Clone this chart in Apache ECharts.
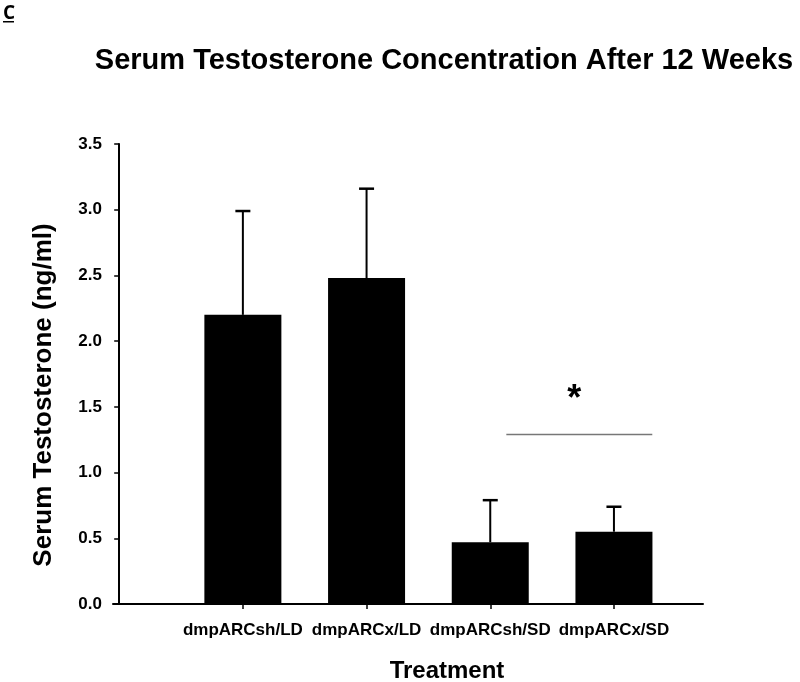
<!DOCTYPE html>
<html>
<head>
<meta charset="utf-8">
<script src="https://cdn.jsdelivr.net/npm/echarts@6/dist/echarts.min.js"></script>
<style>html,body{margin:0;padding:0;background:#fff}#c{width:800px;height:682px}</style>
</head>
<body>
<div id="c"></div>
<script>
const categories = ['dmpARCsh/LD', 'dmpARCx/LD', 'dmpARCsh/SD', 'dmpARCx/SD'];
const positions = [1, 2, 3, 4];
const means = [2.20, 2.48, 0.47, 0.55];
const errorTops = [2.99, 3.16, 0.79, 0.74];
const yTicks = [0, 0.5, 1.0, 1.5, 2.0, 2.5, 3.0, 3.5];
const sigLine = { from: 3.13, to: 4.31, y: 1.29 };
const sigStar = { x: 3.68, y: 1.55, text: '*' };

const FONT = '"Liberation Sans", Arial, sans-serif';
const chart = echarts.init(document.getElementById('c'), null, { renderer: 'canvas' });

const barData = positions.map((p, i) => [p, means[i]]);
const errData = positions.map((p, i) => [p, means[i], errorTops[i]]);

chart.setOption({
  backgroundColor: '#ffffff',
  animation: false,
  graphic: [
    { type: 'text', x: 444, y: 61, style: { text: 'Serum Testosterone Concentration After 12 Weeks', fontFamily: FONT, fontWeight: 'bold', fontSize: 29, fill: '#000', align: 'center', verticalAlign: 'middle' } },
    { type: 'text', x: 3, y: 4, style: { text: 'C', fontFamily: '"Open Sans", "Liberation Sans", sans-serif', fontWeight: 'bold', fontSize: 19, fill: '#000', verticalAlign: 'top' } },
    { type: 'rect', x: 3, y: 21, shape: { width: 11, height: 1.5 }, style: { fill: '#000' } },
    { type: 'text', x: 44, y: 395, rotation: Math.PI / 2, style: { text: 'Serum Testosterone (ng/ml)', fontFamily: FONT, fontWeight: 'bold', fontSize: 26, fill: '#000', align: 'center', verticalAlign: 'middle' } },
    { type: 'text', x: 447, y: 671, style: { text: 'Treatment', fontFamily: FONT, fontWeight: 'bold', fontSize: 24, fill: '#000', align: 'center', verticalAlign: 'middle' } }
  ],
  grid: { left: 113, top: 144, right: 97, bottom: 78, containLabel: false },
  xAxis: {
    type: 'value', min: -0.05, max: 4.72,
    splitLine: { show: false },
    axisLine: { show: true, onZero: false, lineStyle: { color: '#000', width: 2 } },
    axisTick: { show: true, customValues: positions, length: 5, lineStyle: { color: '#000', width: 1.5 } },
    axisLabel: {
      customValues: positions, margin: 18,
      formatter: v => categories[positions.indexOf(Math.round(v))] || '',
      fontFamily: FONT, fontWeight: 'bold', fontSize: 17, color: '#000'
    }
  },
  yAxis: {
    type: 'value', min: 0, max: 3.5, interval: 0.5,
    splitLine: { show: false },
    axisLine: { show: true, lineStyle: { color: '#000', width: 2 } },
    axisTick: { show: true, length: 5, lineStyle: { color: '#000', width: 1.5 } },
    axisLabel: {
      customValues: yTicks, margin: 11,
      formatter: v => Number(v).toFixed(1),
      fontFamily: FONT, fontWeight: 'bold', fontSize: 17, color: '#000'
    }
  },
  series: [
    {
      type: 'bar', data: barData, barWidth: 77,
      itemStyle: { color: '#000' }, z: 2
    },
    {
      type: 'custom', z: 3,
      data: errData,
      renderItem: (params, api) => {
        const x = api.value(0);
        const base = api.coord([x, api.value(1)]);
        const top = api.coord([x, api.value(2)]);
        return {
          type: 'group',
          children: [
            { type: 'line', shape: { x1: base[0], y1: base[1], x2: top[0], y2: top[1] }, style: { stroke: '#000', lineWidth: 2 } },
            { type: 'line', shape: { x1: top[0] - 7.5, y1: top[1], x2: top[0] + 7.5, y2: top[1] }, style: { stroke: '#000', lineWidth: 2.5 } }
          ]
        };
      }
    },
    {
      type: 'custom', z: 3,
      data: [[sigLine.from, sigLine.to, sigLine.y]],
      renderItem: (params, api) => {
        const a = api.coord([api.value(0), api.value(2)]);
        const b = api.coord([api.value(1), api.value(2)]);
        return { type: 'line', shape: { x1: a[0], y1: a[1], x2: b[0], y2: b[1] }, style: { stroke: '#777', lineWidth: 1.5 } };
      }
    },
    {
      type: 'custom', z: 3,
      data: [[sigStar.x, sigStar.y]],
      renderItem: (params, api) => {
        const p = api.coord([api.value(0), api.value(1)]);
        return { type: 'text', x: p[0], y: p[1], style: { text: sigStar.text, fontFamily: FONT, fontWeight: 'bold', fontSize: 36, fill: '#000', align: 'center', verticalAlign: 'middle' } };
      }
    }
  ]
});
</script>
</body>
</html>
